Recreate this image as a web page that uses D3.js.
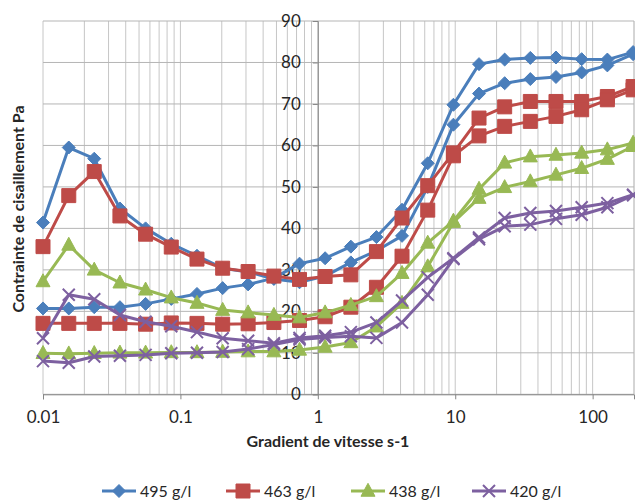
<!DOCTYPE html>
<html>
<head>
<meta charset="utf-8">
<script src="https://cdn.jsdelivr.net/npm/d3@7"></script>
<style>
  body { margin: 0; background: #fff; }
  svg { display: block; font-family: Lato, "Open Sans", sans-serif; }
</style>
</head>
<body>
<div id="chart"></div>
<script>
// shear rates (s-1), shared by every curve
const shearRates = [0.01, 0.0154, 0.0236, 0.0363, 0.0558, 0.0858, 0.132, 0.203, 0.311, 0.479, 0.736, 1.13,
  1.74, 2.67, 4.1, 6.31, 9.7, 14.9, 22.9, 35.2, 54.1, 83.2, 128, 197];

// each concentration has two curves (two sweeps)
const c495a = [41.4, 59.5, 56.8, 44.8, 40.0, 36.3, 33.4, 30.4, 29.5, 27.8, 27.0, 28.5,
  31.8, 34.6, 38.2, 50.0, 65.0, 72.5, 75.0, 76.0, 76.5, 77.6, 79.3, 82.0];
const c495b = [20.7, 20.7, 21.0, 21.0, 21.8, 23.0, 24.2, 25.6, 26.5, 28.0, 31.5, 32.8,
  35.6, 37.9, 44.5, 55.7, 69.8, 79.6, 80.7, 81.1, 81.2, 80.8, 80.7, 82.5];
const c463a = [35.6, 47.9, 53.7, 43.0, 38.6, 35.5, 32.6, 30.4, 29.6, 28.5, 27.7, 28.4,
  28.8, 34.4, 42.5, 50.3, 58.2, 66.6, 69.3, 70.6, 70.6, 70.6, 71.8, 74.2];
const c463b = [17.1, 17.1, 17.1, 17.1, 16.9, 17.2, 17.1, 16.9, 17.0, 17.3, 17.8, 18.7,
  21.0, 25.8, 33.3, 44.4, 57.5, 62.3, 64.6, 65.8, 67.0, 68.6, 71.0, 73.4];
const c438a = [27.2, 36.0, 30.0, 26.9, 25.2, 23.3, 22.0, 20.3, 19.7, 19.1, 18.5, 19.7,
  21.5, 23.6, 29.2, 36.5, 41.8, 49.5, 55.8, 57.3, 57.7, 58.2, 59.0, 60.6];
const c438b = [9.9, 9.8, 9.9, 10.0, 10.0, 10.1, 10.1, 10.2, 10.3, 10.3, 10.7, 11.4,
  12.5, 16.3, 22.0, 30.8, 41.5, 47.3, 49.9, 51.3, 52.9, 54.5, 56.7, 59.8];
const c420a = [13.5, 24.0, 22.9, 19.1, 17.5, 16.4, 15.0, 13.5, 12.9, 12.3, 13.6, 14.1,
  15.0, 17.3, 22.6, 28.2, 32.8, 37.8, 42.5, 43.7, 44.2, 45.1, 46.1, 48.1];
const c420b = [8.0, 7.6, 9.1, 9.3, 9.5, 9.9, 10.0, 10.2, 10.9, 12.0, 13.2, 13.7,
  14.0, 13.6, 17.3, 24.0, 32.6, 37.4, 40.5, 40.9, 42.3, 43.3, 45.1, 48.0];

const seriesNames = ["495 g/l", "463 g/l", "438 g/l", "420 g/l"];
const seriesColors = ["#4a7ebb", "#be4b48", "#98b954", "#7d60a0"];
const seriesSymbols = ["diamond", "square", "triangle", "cross"];
const seriesCurves = [[c495a, c495b], [c463a, c463b], [c438a, c438b], [c420a, c420b]];

const xTicks = [0.01, 0.1, 1, 10, 100];
const yTicks = [0, 10, 20, 30, 40, 50, 60, 70, 80, 90];

const W = 635, H = 502;
const svg = d3.select("#chart").append("svg")
  .attr("width", W)
  .attr("height", H);

const x = d3.scaleLog().domain([0.01, 200]).range([43, 634]);
const y = d3.scaleLinear().domain([0, 90]).range([394.3, 21]);

// gridlines
const minorX = [];
[0.01, 0.1, 1, 10, 100].forEach(d => {
  for (let i = 1; i <= 9; i++) {
    const v = d * i;
    if (v <= 200) minorX.push(v);
  }
});
minorX.push(200);

svg.append("g")
  .selectAll("line")
  .data(minorX)
  .enter()
  .append("line")
  .attr("x1", d => x(d))
  .attr("x2", d => x(d))
  .attr("y1", y(90))
  .attr("y2", y(0))
  .attr("stroke", "#c6c6c6")
  .attr("stroke-width", 1);

svg.append("g")
  .selectAll("line")
  .data(yTicks)
  .enter()
  .append("line")
  .attr("x1", x(0.01))
  .attr("x2", x(200))
  .attr("y1", d => y(d))
  .attr("y2", d => y(d))
  .attr("stroke", "#b5b5b5")
  .attr("stroke-width", 1);

// axes
const xAxis = svg.append("g")
  .attr("transform", `translate(0,${y(0)})`)
  .call(d3.axisBottom(x)
    .tickValues(xTicks)
    .tickFormat(d => String(d))
    .tickSize(5)
    .tickPadding(12));

const yAxis = svg.append("g")
  .attr("transform", `translate(${x(1)},0)`)
  .call(d3.axisLeft(y)
    .tickValues(yTicks)
    .tickSize(5)
    .tickPadding(12));

[xAxis, yAxis].forEach(g => {
  g.select(".domain").attr("stroke", "#868686");
  g.selectAll(".tick line").attr("stroke", "#868686");
  g.selectAll(".tick text")
    .attr("fill", "#262626")
    .style("font-size", "17px")
    .style("font-family", "Lato, sans-serif");
});

// curves
const line = d3.line()
  .x((d, i) => x(shearRates[i]))
  .y(d => y(d));

function symbolPath(type, s) {
  if (type === "diamond") return `M0,${-s}L${s},0L0,${s}L${-s},0Z`;
  if (type === "square") return `M${-s},${-s}H${s}V${s}H${-s}Z`;
  if (type === "triangle") return `M0,${-s * 1.1}L${s},${s * 0.75}L${-s},${s * 0.75}Z`;
  return `M${-s},${-s}L${s},${s}M${s},${-s}L${-s},${s}`;
}
const symbolSize = { diamond: 6.5, square: 7, triangle: 7, cross: 6 };

function drawMarker(g, type, color) {
  const p = g.append("path").attr("d", symbolPath(type, symbolSize[type]));
  if (type === "cross") {
    p.attr("fill", "none").attr("stroke", color).attr("stroke-width", 2);
  } else {
    p.attr("fill", color).attr("stroke", color).attr("stroke-width", 1);
  }
}

seriesCurves.forEach((curves, si) => {
  const color = seriesColors[si];
  const g = svg.append("g");
  curves.forEach(values => {
    g.append("path")
      .datum(values)
      .attr("d", line)
      .attr("fill", "none")
      .attr("stroke", color)
      .attr("stroke-width", 3)
      .attr("stroke-linejoin", "round");
  });
  curves.forEach(values => {
    values.forEach((v, i) => {
      const m = g.append("g").attr("transform", `translate(${x(shearRates[i])},${y(v)})`);
      drawMarker(m, seriesSymbols[si], color);
    });
  });
});

// axis titles
svg.append("text")
  .attr("transform", `translate(24,209) rotate(-90)`)
  .attr("text-anchor", "middle")
  .style("font-size", "16px")
  .style("font-weight", "bold")
  .attr("fill", "#262626")
  .text("Contrainte de cisaillement Pa");

svg.append("text")
  .attr("x", 328)
  .attr("y", 446.5)
  .attr("text-anchor", "middle")
  .style("font-size", "16px")
  .style("font-weight", "bold")
  .attr("fill", "#262626")
  .text("Gradient de vitesse s-1");

// legend
const legendX = [102, 226, 351, 472];
seriesNames.forEach((name, i) => {
  const lg = svg.append("g").attr("transform", `translate(${legendX[i]},491)`);
  lg.append("line")
    .attr("x1", 0)
    .attr("x2", 34)
    .attr("stroke", seriesColors[i])
    .attr("stroke-width", 3);
  const m = lg.append("g").attr("transform", "translate(17,0)");
  drawMarker(m, seriesSymbols[i], seriesColors[i]);
  lg.append("text")
    .attr("x", 38)
    .attr("y", 0)
    .attr("dy", "0.35em")
    .style("font-size", "16px")
    .attr("fill", "#262626")
    .text(name);
});
</script>
</body>
</html>
